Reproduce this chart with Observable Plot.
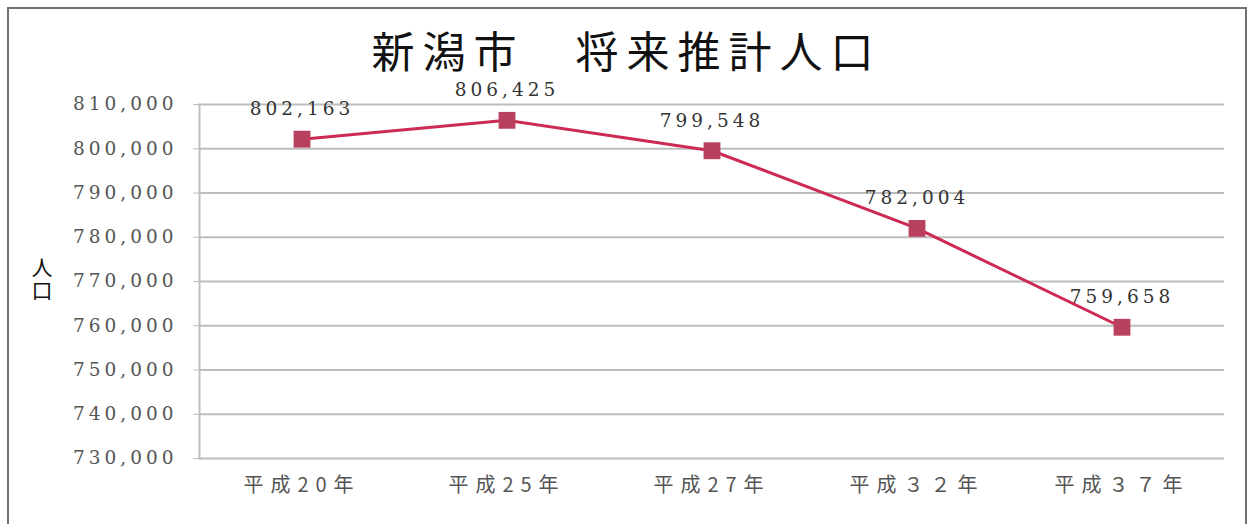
<!DOCTYPE html>
<html>
<head>
<meta charset="utf-8">
<script src="https://cdn.jsdelivr.net/npm/d3@7"></script>
<script src="https://cdn.jsdelivr.net/npm/@observablehq/plot@0.6"></script>
<style>
  html, body { margin: 0; padding: 0; background: #fff; overflow: hidden; }
  #wrap { position: relative; width: 1253px; height: 524px; overflow: hidden; background: #fff; }
  #border { position: absolute; left: 7px; top: 7px; width: 1240px; height: 540px; border: 2px solid #707070; box-sizing: border-box; }
  #title { position: absolute; left: 0; top: 30px; width: 1253px; text-align: center;
    font-family: "Noto Sans CJK JP", sans-serif; font-size: 43px; line-height: 38px; letter-spacing: 8px; color: #111; }
  #ylabel { position: absolute; left: 31px; top: 257px; writing-mode: vertical-rl;
    font-family: "Noto Sans CJK JP", sans-serif; font-size: 21px; line-height: 21px; color: #111; letter-spacing: 2px; }
  #chart { position: absolute; left: 0; top: 0; }
  #chart svg g[aria-label="y-axis tick label"] text { letter-spacing: 4px; }
  #chart svg g[aria-label="text"] text { letter-spacing: 4px; }
  #chart svg g[aria-label="x-axis tick label"] text { letter-spacing: 7px; }
</style>
</head>
<body>
<div id="wrap">
  <div id="border"></div>
  <div id="chart"></div>
  <div id="title"></div>
  <div id="ylabel"></div>
</div>
<script>
const titleText = "新潟市\u3000将来推計人口";
const yAxisLabel = "人口";
const categories = ["平成20年", "平成25年", "平成27年", "平成３２年", "平成３７年"];
const population = [802163, 806425, 799548, 782004, 759658];
const yTicks = [730000, 740000, 750000, 760000, 770000, 780000, 790000, 800000, 810000];

const data = categories.map((c, i) => ({category: c, value: population[i]}));
const fmt = d3.format(",");

document.getElementById("title").textContent = titleText;
document.getElementById("ylabel").textContent = yAxisLabel;

const numFont = {fontFamily: "'DejaVu Serif', serif", fontSize: 18.5};

const chart = Plot.plot({
  width: 1253,
  height: 524,
  marginTop: 104,
  marginBottom: 66,
  marginLeft: 199,
  marginRight: 29,
  style: {background: "transparent", overflow: "visible"},
  x: {type: "band", domain: categories, padding: 0, label: null},
  y: {domain: [730000, 810000], label: null},
  marks: [
    Plot.gridY(yTicks, {stroke: "#bdbdbd", strokeOpacity: 1, strokeWidth: 2}),
    Plot.frame({anchor: "left", stroke: "#bdbdbd", strokeWidth: 2}),
    Plot.axisY(yTicks, {tickSize: 6, tickPadding: 16, stroke: "#bdbdbd", tickFormat: fmt,
      fill: "#555", ...numFont}),
    Plot.axisX({tickSize: 0, tickPadding: 19, fill: "#555",
      fontFamily: "'Noto Sans CJK JP', sans-serif", fontSize: 20}),
    Plot.line(data, {x: "category", y: "value", stroke: "#cc2a52", strokeWidth: 3}),
    Plot.dot(data, {x: "category", y: "value", symbol: "square", r: 9.5, fill: "#b9405e", stroke: "none"}),
    Plot.text(data, {x: "category", y: "value", text: d => fmt(d.value), dy: -30,
      fill: "#333", ...numFont})
  ]
});
document.getElementById("chart").appendChild(chart);
</script>
</body>
</html>
